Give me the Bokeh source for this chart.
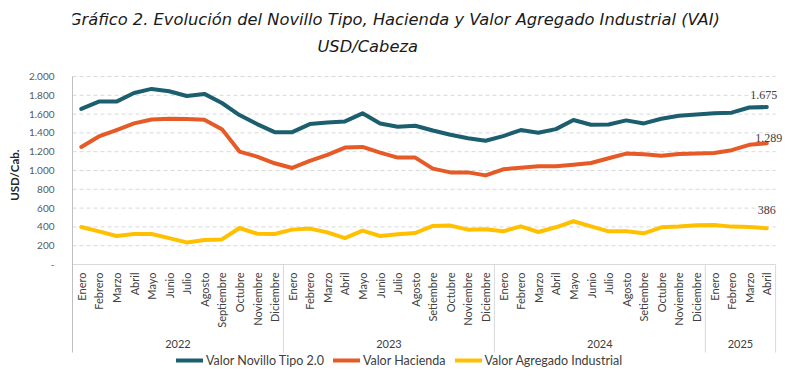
import math
from bokeh.plotting import figure
from bokeh.models import (Range1d, FixedTicker, ColumnDataSource, LabelSet,
                          Legend, LegendItem, Title)
from bokeh.core.properties import value
from bokeh.embed import file_html
from bokeh.resources import INLINE

# ---------------- data ----------------
anios = ["2022", "2023", "2024", "2025"]
meses_2022 = ["Enero", "Febrero", "Marzo", "Abril", "Mayo", "Junio", "Julio", "Agosto",
              "Septiembre", "Octubre", "Noviembre", "Diciembre"]
meses_2023 = ["Enero", "Febrero", "Marzo", "Abril", "Mayo", "Junio", "Julio", "Agosto",
              "Setiembre", "Octubre", "Noviembre", "Diciembre"]
meses_2024 = ["Enero", "Febrero", "Marzo", "Abril", "Mayo", "Junio", "Julio", "Agosto",
              "Setiembre", "Octubre", "Noviembre", "Diciembre"]
meses_2025 = ["Enero", "Febrero", "Marzo", "Abril"]

novillo = [1655, 1733, 1733, 1825, 1868, 1843, 1793, 1815, 1718, 1590, 1494, 1408,
           1408, 1494, 1511, 1522, 1608, 1500, 1465, 1476, 1425, 1380, 1344, 1316,
           1366, 1430, 1401, 1440, 1537, 1487, 1490, 1533, 1501, 1551, 1583, 1597,
           1608, 1615, 1670, 1675]
hacienda = [1251, 1362, 1430, 1501, 1543, 1551, 1547, 1540, 1440, 1201, 1148, 1077,
            1027, 1102, 1166, 1244, 1251, 1190, 1137, 1137, 1020, 980, 980, 948,
            1013, 1030, 1045, 1045, 1062, 1080, 1130, 1180, 1173, 1158, 1176, 1180,
            1187, 1216, 1273, 1289]
vai = [399, 353, 303, 324, 324, 281, 235, 260, 267, 388, 328, 324,
       371, 382, 342, 281, 360, 303, 321, 335, 410, 414, 371, 374,
       353, 406, 346, 396, 460, 406, 353, 353, 332, 396, 403, 417,
       421, 403, 399, 386]

series_names = ["Valor Novillo Tipo 2.0", "Valor Hacienda", "Valor Agregado Industrial"]
series_colors = ["#1b5e6e", "#e55a26", "#ffc000"]
end_labels = ["1.675", "1.289", "386"]

y_ticks = [0, 200, 400, 600, 800, 1000, 1200, 1400, 1600, 1800, 2000]
y_tick_labels = ["-", "200", "400", "600", "800", "1.000", "1.200", "1.400", "1.600",
                 "1.800", "2.000"]

titulo = "Gráfico 2. Evolución del Novillo Tipo, Hacienda y Valor Agregado Industrial (VAI)"
subtitulo = "USD/Cabeza"
y_titulo = "USD/Cab."

# ---------------- layout helpers (canvas pixels -> data) ----------------
W, H = 785, 368
LEFT = 64                      # intended frame left inside the canvas
MONTH_PX = 711 / 40.0          # width of one month slot
PPU = 188 / 2000.0             # pixels per USD
ZERO_PY = 264                  # canvas y of the zero line


def cx(px):   # canvas x -> data x
    return (px - LEFT) / MONTH_PX


def cy(py):   # canvas y -> data y
    return (ZERO_PY - py) / PPU


meses_por_anio = [meses_2022, meses_2023, meses_2024, meses_2025]
meses = [m for ms in meses_por_anio for m in ms]
n = len(meses)
xs = [i + 0.5 for i in range(n)]
bounds = [0]
for ms in meses_por_anio:
    bounds.append(bounds[-1] + len(ms))
centros = [(a + b) / 2 for a, b in zip(bounds[:-1], bounds[1:])]

p = figure(width=W, height=H, x_range=Range1d(0, cx(W)), y_range=Range1d(cy(H), cy(0)),
           output_backend="svg", toolbar_location=None, title=None,
           min_border_left=LEFT, min_border_right=0, min_border_top=0,
           min_border_bottom=0)
p.outline_line_color = None
p.background_fill_color = "white"
p.border_fill_color = "white"
p.xaxis.visible = False
p.xgrid.visible = False
p.ygrid.visible = False

SEP_BOTTOM = cy(352)

# y axis
ticker = FixedTicker(ticks=y_ticks)
p.yaxis.ticker = ticker
p.yaxis.bounds = (SEP_BOTTOM, 2000)
p.yaxis.major_label_overrides = dict(zip(y_ticks, y_tick_labels))
p.yaxis.major_tick_line_color = None
p.yaxis.major_tick_out = 0
p.yaxis.major_tick_in = 0
p.yaxis.minor_tick_line_color = None
p.yaxis.minor_tick_out = 0
p.yaxis.minor_tick_in = 0
p.yaxis.axis_line_color = "#bfbfbf"
p.yaxis.major_label_text_font = "Lato"
p.yaxis.major_label_text_font_size = "10px"
p.yaxis.major_label_text_color = "#595959"
p.yaxis.major_label_standoff = 18

ytitle = Title(text=y_titulo, align="right", offset=149, vertical_align="bottom",
               standoff=10, text_font="Lato", text_font_style="bold",
               text_font_size="11.5px", text_color="#262626")
p.add_layout(ytitle, "left")

# grid lines and zero line
p.segment(x0=0, x1=n, y0=y_ticks[1:], y1=y_ticks[1:], line_color="#d9d9d9",
          line_width=1, line_dash="4 3")
p.segment(x0=0, x1=n, y0=0, y1=0, line_color="#d9d9d9", line_width=1)

# year separators
p.segment(x0=bounds[1:], x1=bounds[1:], y0=SEP_BOTTOM, y1=0, line_color="#d9d9d9",
          line_width=1)

# month and year labels
p.text(x=xs, y=cy(272), text=meses, angle=math.pi / 2, text_align="right",
       text_baseline="middle", text_font=value("Lato"), text_font_size="11px",
       text_color="#404040")
p.text(x=centros, y=cy(343), text=anios, text_align="center", text_baseline="middle",
       text_font=value("Lato"), text_font_size="11px", text_color="#404040")

# titles
p.text(x=[cx(389.5)], y=[cy(19)], text=[titulo], text_align="center", text_baseline="middle",
       text_font=value("DejaVu Sans"), text_font_style="italic", text_font_size="16.3px",
       text_color="#1a1a1a")
p.text(x=[cx(362.5)], y=[cy(46)], text=[subtitulo], text_align="center",
       text_baseline="middle", text_font=value("DejaVu Sans"), text_font_style="italic",
       text_font_size="16.3px", text_color="#1a1a1a")

# lines
renderers = []
for name, vals, col in zip(series_names, [novillo, hacienda, vai], series_colors):
    src = ColumnDataSource(data=dict(x=xs, y=vals))
    r = p.line("x", "y", source=src, line_color=col, line_width=4,
               line_cap="round", line_join="round")
    renderers.append(r)

# end labels
lab_src = ColumnDataSource(data=dict(
    x=[xs[-1]] * 3,
    y=[novillo[-1], hacienda[-1], vai[-1]],
    text=end_labels,
    xo=[-3, 2, 0],
    yo=[12, 5, 18],
))
p.add_layout(LabelSet(x="x", y="y", text="text", source=lab_src, x_offset="xo",
                      y_offset="yo", text_align="center", text_baseline="middle",
                      text_font="Lato", text_font_size="12px", text_color="#404040"))

# legend
legend = Legend(items=[LegendItem(label=nm, renderers=[r]) for nm, r in zip(series_names, renderers)],
                orientation="horizontal", location=(104, 0), glyph_width=27,
                glyph_height=16, label_standoff=3, spacing=9, padding=0, margin=0,
                border_line_color=None, background_fill_alpha=0,
                label_text_font="Lato", label_text_font_size="12.5px",
                label_text_color="#404040")
p.add_layout(legend, "center")

open("out.html", "w").write(file_html(p, INLINE))
